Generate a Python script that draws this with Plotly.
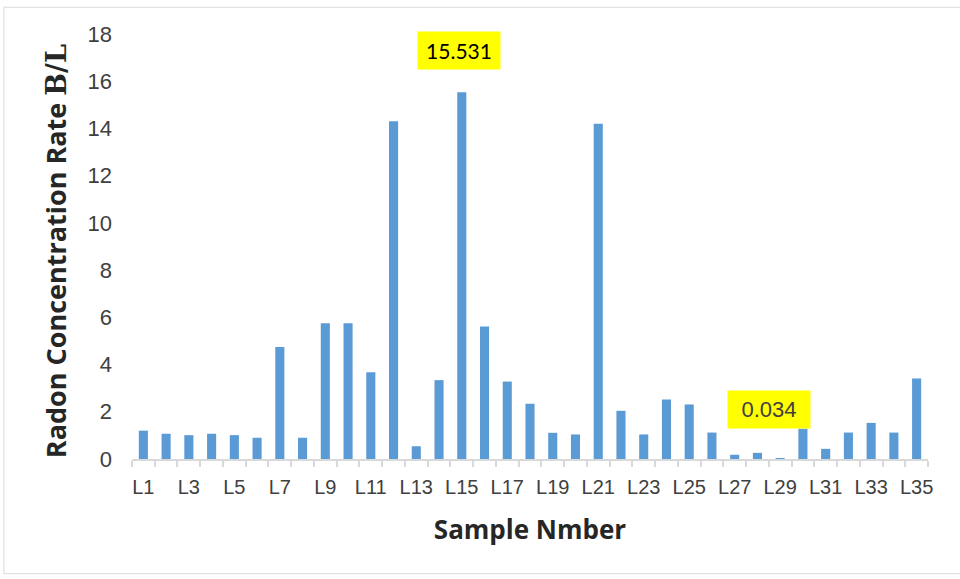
import plotly.graph_objects as go

# Sample identifiers and measured radon concentration (B/L)
samples = [f"L{i}" for i in range(1, 36)]
radon = [1.20, 1.07, 1.01, 1.07, 1.01, 0.90, 4.74, 0.90, 5.75, 5.75,
         3.67, 14.30, 0.54, 3.34, 15.531, 5.61, 3.28, 2.34, 1.11, 1.04,
         14.20, 2.04, 1.04, 2.52, 2.31, 1.12, 0.18, 0.26, 0.034, 1.28,
         0.43, 1.12, 1.53, 1.12, 3.41]
tick_text = [s if i % 2 == 0 else "" for i, s in enumerate(samples)]
y_ticks = list(range(0, 19, 2))

# Highlighted values: (sample, value, horizontal shift, font, size, colour, label height)
callouts = [("L15", 15.531, -3, "Lato, Carlito, sans-serif", 21, "#000000", 17.3),
            ("L29", 0.034, -11, "Liberation Sans, Arial, sans-serif", 22, "#404040", 2.08)]

fig = go.Figure(go.Bar(x=samples, y=radon, marker=dict(color="#5b9bd5", line=dict(width=0))))

for name, val, dx, fam, fsize, col, ypos in callouts:
    fig.add_annotation(x=name, y=ypos, text=f"{val:g}", showarrow=False,
                       xshift=dx, bgcolor="#ffff00", width=80, height=35,
                       font=dict(family=fam, size=fsize, color=col))

# y-axis title with the unit set in a serif face
fig.add_annotation(xref="paper", yref="paper", x=-0.096, y=0.488, textangle=-90,
                   showarrow=False, xanchor="center", yanchor="middle",
                   text="Radon Concentration Rate <span style='font-family:DejaVu Serif, serif'>B/L</span>",
                   font=dict(family="Open Sans, sans-serif", size=27, color="#262626", weight="bold"))

fig.add_shape(type="rect", xref="paper", yref="paper", x0=-0.161, x1=1.045, y0=-0.27, y1=1.063,
              line=dict(color="#d9d9d9", width=1), layer="below")

fig.update_layout(
    width=960, height=579, margin=dict(l=132, r=32, t=34, b=120),
    paper_bgcolor="white", plot_bgcolor="white", bargap=0.6, showlegend=False,
    xaxis=dict(type="category", tickvals=samples, ticktext=tick_text, tickson="boundaries",
               tickangle=0, ticks="outside", ticklen=6, tickcolor="#d9d9d9", tickwidth=1.5,
               ticklabelstandoff=9,
               showline=True, linecolor="#d9d9d9", linewidth=1.5, showgrid=False,
               tickfont=dict(family="Liberation Sans, Arial, sans-serif", size=20, color="#404040"),
               title=dict(text="Sample Nmber", standoff=24,
                          font=dict(family="Open Sans, sans-serif", size=26, color="#262626", weight="bold"))),
    yaxis=dict(range=[0, 18], tickvals=y_ticks, showgrid=False, showline=False, zeroline=False,
               ticks="", ticklabelstandoff=19,
               tickfont=dict(family="Liberation Sans, Arial, sans-serif", size=22, color="#404040")),
)

fig.write_html("out.html")
